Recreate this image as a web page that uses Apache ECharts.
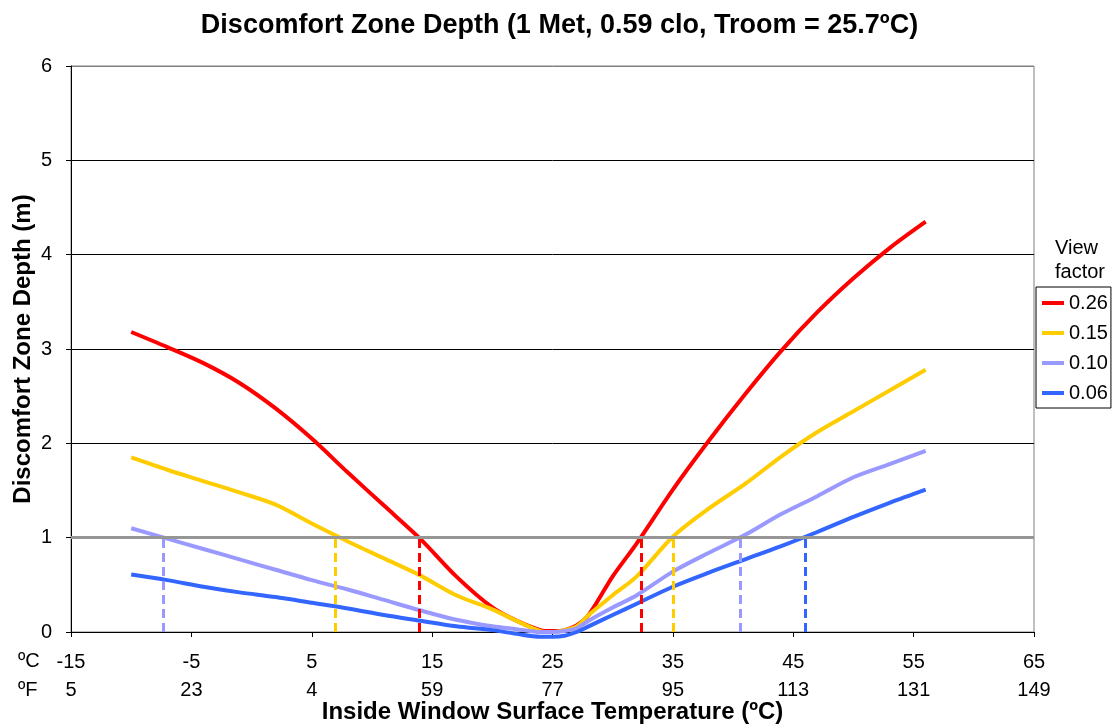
<!DOCTYPE html>
<html>
<head>
<meta charset="utf-8">
<script src="https://cdn.jsdelivr.net/npm/echarts@6/dist/echarts.min.js"></script>
<style>
  html, body { margin: 0; padding: 0; background: #fff; }
  #chart { width: 1119px; height: 727px; }
</style>
</head>
<body>
<div id="chart"></div>
<script>
// inside window surface temperature (ºC)
const temps = [-10, -7, -4, -1, 2, 5, 8, 11, 14, 17, 20, 22, 24, 25, 26, 27, 28, 30, 32, 35, 38, 41, 44, 47, 50, 53, 56]

// discomfort zone depth (m) for each view factor
const vf026 = [3.18, 3.02, 2.85, 2.64, 2.37, 2.05, 1.69, 1.34, 0.99, 0.59, 0.26, 0.12, 0.02, 0.01, 0.02, 0.07, 0.18, 0.59, 0.94, 1.51, 2.03, 2.52, 2.98, 3.39, 3.75, 4.07, 4.35]
const vf015 = [1.85, 1.72, 1.60, 1.48, 1.35, 1.15, 0.96, 0.78, 0.60, 0.39, 0.24, 0.12, 0.01, 0.0, 0.02, 0.06, 0.18, 0.39, 0.59, 1.01, 1.31, 1.57, 1.86, 2.12, 2.34, 2.56, 2.78]
const vf010 = [1.10, 0.99, 0.88, 0.77, 0.66, 0.55, 0.45, 0.34, 0.23, 0.13, 0.06, 0.03, 0.0, 0.0, 0.01, 0.04, 0.12, 0.26, 0.39, 0.64, 0.84, 1.03, 1.25, 1.44, 1.64, 1.78, 1.92]
const vf006 = [0.61, 0.55, 0.48, 0.42, 0.37, 0.31, 0.25, 0.18, 0.12, 0.06, 0.02, -0.02, -0.05, -0.05, -0.04, 0.0, 0.06, 0.18, 0.30, 0.48, 0.63, 0.77, 0.91, 1.06, 1.22, 1.37, 1.51]

// where each curve crosses 1 m
const cross026 = [13.9, 32.4]
const cross015 = [6.95, 35.0]
const cross010 = [-7.3, 40.6]
const cross006 = [46.0]

// fahrenheit tick labels as printed under the axis
const fLabels = ['5', '23', '4', '59', '77', '95', '113', '131', '149']

const seriesDefs = [
  { name: '0.26', data: vf026, color: '#FF0000', cross: cross026 },
  { name: '0.15', data: vf015, color: '#FFCC00', cross: cross015 },
  { name: '0.10', data: vf010, color: '#9999FF', cross: cross010 },
  { name: '0.06', data: vf006, color: '#3366FF', cross: cross006 },
]

const font = 'Liberation Sans, Arial, sans-serif'
const chart = echarts.init(document.getElementById('chart'))

const series = seriesDefs.map((s) => ({
  name: s.name,
  type: 'line',
  data: temps.map((t, i) => [t, s.data[i]]),
  symbol: 'none',
  smooth: 0.3,
  clip: false,
  lineStyle: { color: s.color, width: 4 },
  itemStyle: { color: s.color },
  z: 3,
  markLine: {
    silent: true,
    symbol: ['none', 'none'],
    label: { show: false },
    lineStyle: { color: s.color, width: 3, type: [9, 5] },
    data: s.cross.map((c) => [{ coord: [c, 0] }, { coord: [c, 1] }]),
  },
}))

// grey 1 m reference line
series.push({
  type: 'line',
  data: [],
  z: 2,
  markLine: {
    silent: true,
    symbol: ['none', 'none'],
    label: { show: false },
    lineStyle: { color: '#969696', width: 3, type: 'solid' },
    data: [{ yAxis: 1 }],
  },
})

const option = {
  animation: false,
  backgroundColor: '#fff',
  textStyle: { fontFamily: font },
  title: {
    text: 'Discomfort Zone Depth (1 Met, 0.59 clo, Troom = 25.7ºC)',
    left: 'center',
    top: 7,
    textStyle: { fontFamily: font, fontSize: 27, fontWeight: 'bold', color: '#000' },
  },
  grid: {
    left: 71,
    right: 85,
    top: 66,
    bottom: 95,
    outerBoundsMode: 'none',
    show: true,
    borderColor: '#808080',
    borderWidth: 1,
  },
  legend: {
    orient: 'vertical',
    left: 1036,
    top: 287,
    padding: [6, 3, 5, 6],
    itemGap: 10,
    itemWidth: 22,
    itemHeight: 4,
    icon: 'rect',
    backgroundColor: '#fff',
    borderColor: '#000',
    borderWidth: 1,
    textStyle: { fontFamily: font, fontSize: 20, color: '#000', lineHeight: 20 },
    data: seriesDefs.map((s) => s.name),
  },
  graphic: [
    {
      type: 'text', left: 1055, top: 236,
      style: { text: 'View\nfactor', fontFamily: font, fontSize: 20, lineHeight: 24, fill: '#000', align: 'center' },
    },
    { type: 'text', left: 18, top: 651, style: { text: 'ºC', fontFamily: font, fontSize: 20, fill: '#000' } },
    { type: 'text', left: 18, top: 680, style: { text: 'ºF', fontFamily: font, fontSize: 20, fill: '#000' } },
  ],
  xAxis: {
    type: 'value',
    min: -15,
    max: 65,
    interval: 10,
    name: 'Inside Window Surface Temperature (ºC)',
    nameLocation: 'middle',
    nameGap: 68,
    nameMoveOverlap: false,
    nameTextStyle: { fontFamily: font, fontSize: 24, fontWeight: 'bold', color: '#000' },
    axisLine: { onZero: false, lineStyle: { color: '#000', width: 1 } },
    axisTick: { show: true, length: 5, lineStyle: { color: '#000' } },
    splitLine: { show: false },
    axisLabel: {
      margin: 16,
      fontFamily: font,
      fontSize: 20,
      color: '#000',
      lineHeight: 28,
      formatter: (v) => v + '\n' + fLabels[Math.round((v + 15) / 10)],
    },
  },
  yAxis: {
    type: 'value',
    min: 0,
    max: 6,
    interval: 1,
    name: 'Discomfort Zone Depth (m)',
    nameLocation: 'middle',
    nameGap: 36,
    nameMoveOverlap: false,
    nameTextStyle: { fontFamily: font, fontSize: 24, fontWeight: 'bold', color: '#000' },
    axisLine: { show: true, onZero: false, lineStyle: { color: '#000', width: 1 } },
    axisTick: { show: true, length: 5, lineStyle: { color: '#000' } },
    axisLabel: { margin: 19, fontFamily: font, fontSize: 20, color: '#000' },
    splitLine: {
      show: true,
      lineStyle: { color: ['#000', '#969696', '#000', '#000', '#000', '#000', '#808080'], width: 1 },
    },
  },
  series: series,
}

chart.setOption(option)
</script>
</body>
</html>
